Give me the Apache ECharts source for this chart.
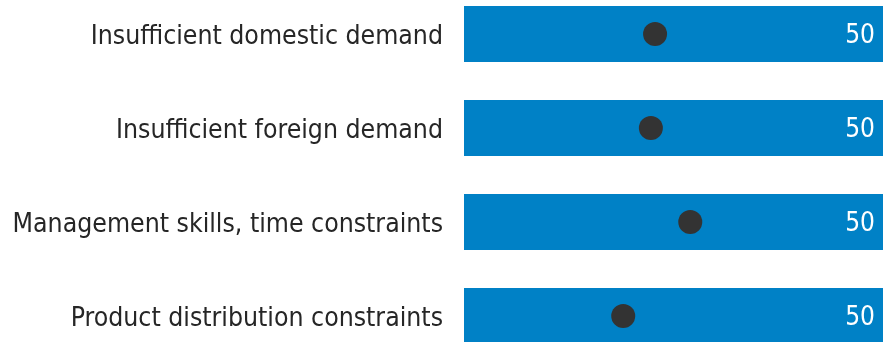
<!DOCTYPE html>
<html>
<head>
<meta charset="utf-8">
<script src="https://cdn.jsdelivr.net/npm/echarts@6/dist/echarts.min.js"></script>
<style>
  html, body { margin: 0; padding: 0; background: #fff; }
  #chart { width: 883px; height: 342px; }
</style>
</head>
<body>
<div id="chart"></div>
<script>
const categories = [
  'Insufficient domestic demand',
  'Insufficient foreign demand',
  'Management skills, time constraints',
  'Product distribution constraints'
]
const barValues = [50, 50, 50, 50]
const dotValues = [22.8, 22.3, 27.0, 19.0]

const chart = echarts.init(document.getElementById('chart'))
chart.setOption({
  animation: false,
  grid: {
    left: 464,
    right: 0,
    top: 34,
    bottom: 26
  },
  xAxis: {
    type: 'value',
    min: 0,
    max: 50,
    show: false
  },
  yAxis: {
    type: 'category',
    inverse: true,
    boundaryGap: false,
    data: categories,
    axisLine: { show: false },
    axisTick: { show: false },
    splitLine: { show: false },
    axisLabel: {
      margin: 21,
      formatter: v => '{t|' + v + '}',
      rich: {
        t: {
          padding: [6, 0, 0, 0],
          color: '#262626',
          fontSize: 26.4,
          fontFamily: 'DejaVu Sans Condensed'
        }
      }
    }
  },
  series: [{
    type: 'bar',
    data: barValues,
    barWidth: 56,
    clip: false,
    itemStyle: { color: '#0081C6' },
    label: {
      show: true,
      position: 'insideRight',
      distance: 8,
      formatter: '{v|{c}}',
      rich: {
        v: {
          padding: [5, 0, 0, 0],
          color: '#fff',
          fontSize: 26,
          fontFamily: 'DejaVu Sans Condensed'
        }
      }
    }
  }, {
    type: 'scatter',
    data: dotValues,
    symbolSize: 24,
    clip: false,
    itemStyle: { color: '#333', opacity: 1 },
    z: 3
  }]
})
</script>
</body>
</html>
